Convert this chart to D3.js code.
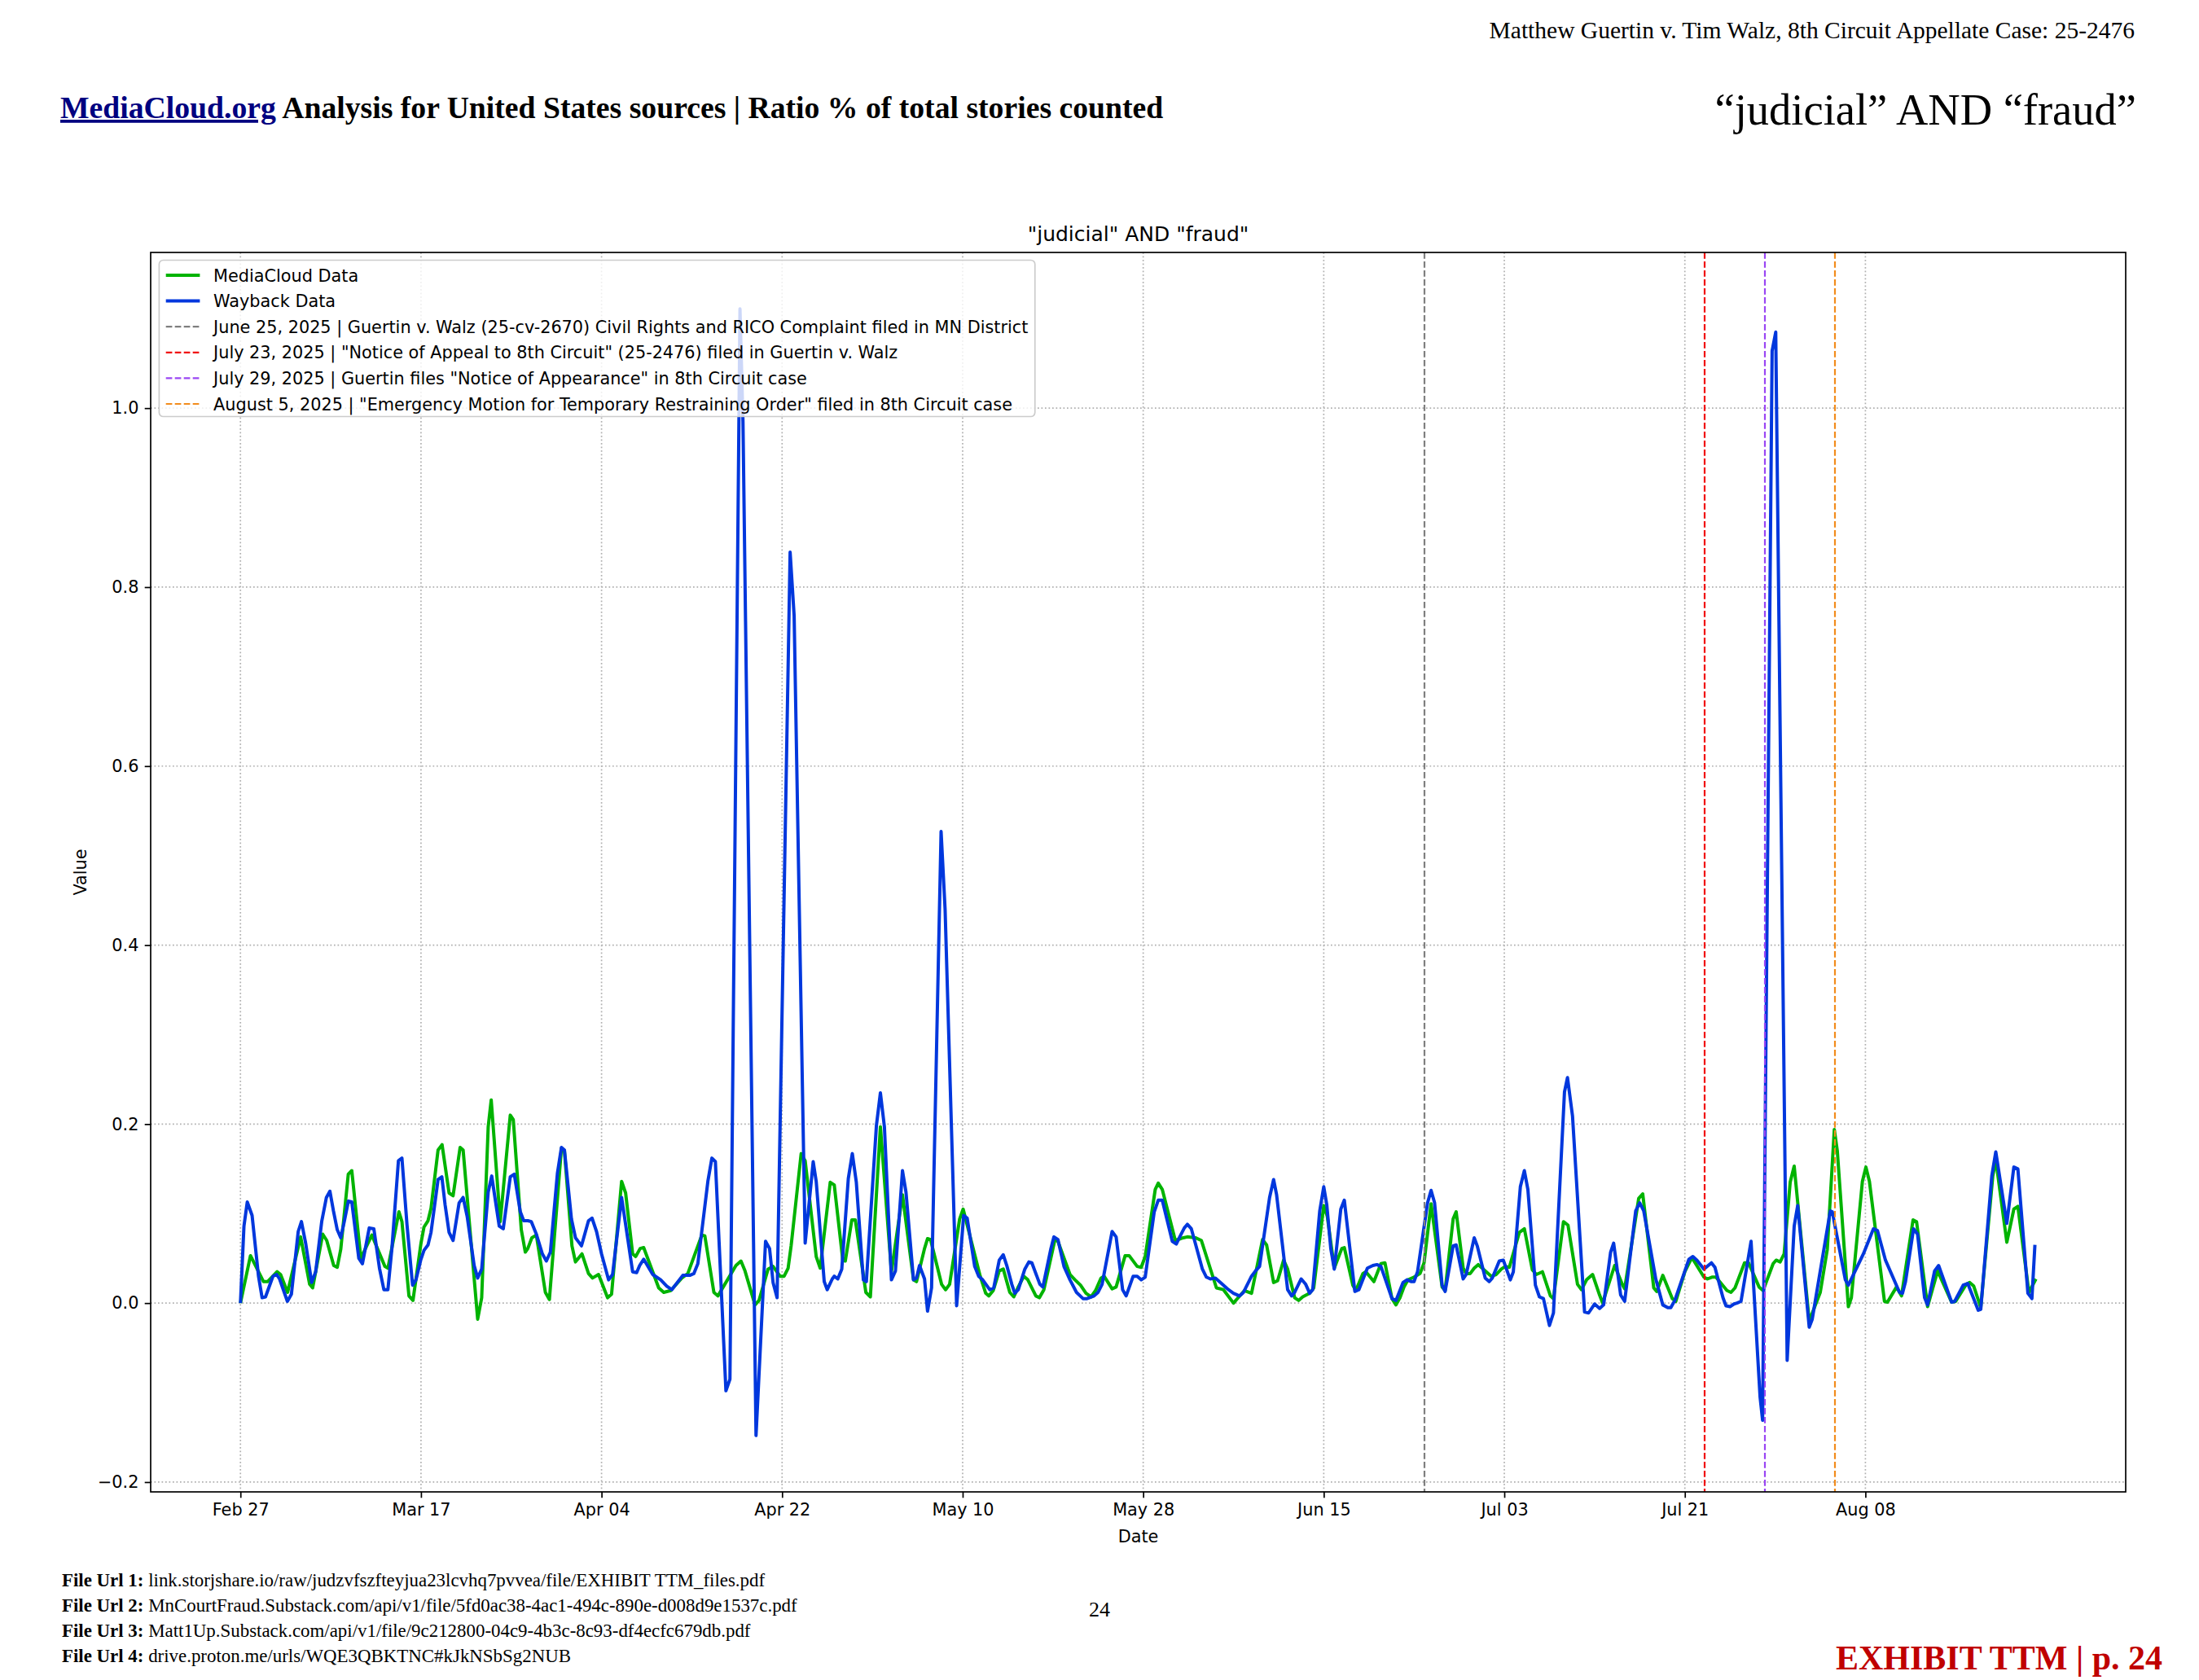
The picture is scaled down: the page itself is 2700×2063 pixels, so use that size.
<!DOCTYPE html>
<html>
<head>
<meta charset="utf-8">
<script src="https://cdnjs.cloudflare.com/ajax/libs/d3/7.8.5/d3.min.js"></script>
<style>
  body { margin: 0; background: #ffffff; }
  svg text { font-family: "DejaVu Sans", sans-serif; }
  .serif { font-family: "Liberation Serif", "Times New Roman", serif; }
</style>
</head>
<body>
<div id="page"></div>
<script>
// ---- Data ----
// x values are days counted from Feb 27, 2025
var startDate = "2025-02-27";

// MediaCloud series: [day, value]
var mediaCloudPoints = [
  [0,0.000],[1.0,0.053],[2.3,0.024],[2.7,0.024],[3.65,0.035],[4.0,0.032],[4.7,0.012],[6.0,0.074],[6.9,0.021],[7.2,0.017],
  [8.2,0.077],[8.6,0.070],[9.3,0.042],[9.65,0.040],[10.0,0.060],[10.75,0.144],[11.1,0.148],[12.0,0.050],[13.1,0.076],[14.4,0.041],
  [14.7,0.039],[15.8,0.102],[16.1,0.091],[16.8,0.008],[17.2,0.003],[18.0,0.067],[18.3,0.085],[18.7,0.092],[19.0,0.106],[19.7,0.171],
  [20.1,0.177],[20.8,0.123],[21.2,0.120],[21.9,0.174],[22.2,0.171],[23.65,-0.018],[24.05,0.006],[24.7,0.197],[25.0,0.227],[25.9,0.091],
  [26.9,0.210],[27.2,0.205],[28.0,0.082],[28.4,0.057],[28.65,0.061],[29.05,0.073],[29.5,0.076],[30.4,0.012],[30.8,0.004],[32.0,0.173],
  [32.3,0.170],[33.05,0.064],[33.4,0.046],[34.05,0.055],[34.7,0.033],[35.1,0.028],[35.7,0.032],[36.6,0.006],
  [37.0,0.010],[38.0,0.136],[38.4,0.123],[39.1,0.055],[39.4,0.052],[39.85,0.061],[40.2,0.062],[41.7,0.017],[42.2,0.012],[42.9,0.014],
  [44.0,0.028],[44.6,0.033],[46.0,0.076],[46.3,0.075],[47.2,0.012],[47.6,0.008],[49.4,0.042],[49.9,0.047],[50.3,0.036],[51.3,-0.002],
  [51.7,0.003],[52.6,0.038],[53.1,0.041],[53.8,0.030],[54.2,0.030],[54.6,0.039],[54.9,0.064],[55.9,0.167],[56.3,0.159],[57.4,0.052],
  [57.8,0.039],[58.8,0.135],[59.2,0.132],[60.05,0.048],[60.3,0.047],[60.95,0.093],[61.3,0.093],[62.35,0.012],[62.8,0.007],[63.8,0.197],
  [64.9,0.035],[66.0,0.121],[67.1,0.026],[67.4,0.024],[68.2,0.061],[68.5,0.072],[68.8,0.071],[69.9,0.021],[70.3,0.015],[70.7,0.021],
  [71.7,0.094],[72.05,0.105],
  [73.75,0.030],[74.3,0.011],[74.6,0.008],[75.05,0.014],[75.65,0.036],[76.05,0.038],[76.7,0.012],[77.1,0.007],[77.5,0.017],[78.1,0.030],
  [78.5,0.026],[79.3,0.008],[79.65,0.006],[80.1,0.015],[81.2,0.071],[81.5,0.069],[82.7,0.032],[83.2,0.026],[83.75,0.020],[84.3,0.011],
  [84.8,0.007],[85.25,0.014],[85.8,0.028],[86.1,0.030],[86.9,0.016],[87.3,0.018],[88.2,0.053],[88.6,0.053],[89.4,0.041],[89.8,0.040],
  [90.2,0.052],[91.2,0.127],[91.5,0.134],[91.9,0.127],[93.2,0.070],[94.0,0.073],[94.4,0.074],[95.2,0.073],[95.8,0.070],[97.3,0.017],
  [98.0,0.015],[99.0,0.000],[99.7,0.009],[100.1,0.014],[100.8,0.011],[101.9,0.071],[102.3,0.065],[103.0,0.023],[103.4,0.025],[104.0,0.048],
  [104.4,0.038],[105.1,0.006],[105.5,0.003],[105.9,0.007],[106.6,0.011],[107.0,0.017],[108.0,0.109],[108.35,0.097],
  [109.05,0.039],[109.8,0.061],[110.05,0.062],[110.9,0.020],[111.2,0.014],[111.9,0.033],[112.2,0.035],[113.0,0.024],[113.7,0.044],[114.1,0.045],
  [114.8,0.005],[115.2,-0.002],[115.6,0.006],[116.0,0.018],[116.4,0.026],[117.0,0.029],[117.6,0.033],[118.0,0.045],[118.7,0.111],[119.8,0.018],
  [120.1,0.014],[120.9,0.094],[121.2,0.102],[121.9,0.039],[122.2,0.033],[122.6,0.033],[123.0,0.039],[123.4,0.043],[124.7,0.030],[125.2,0.032],
  [125.7,0.038],[126.1,0.041],[126.5,0.040],[127.5,0.079],[128.0,0.083],[128.8,0.037],[129.2,0.032],[129.8,0.035],[130.6,0.008],[130.9,0.005],
  [131.9,0.091],[132.35,0.087],[133.3,0.021],[133.7,0.015],[134.2,0.026],[134.8,0.032],[135.5,0.009],[135.8,0.000],[137.0,0.042],[137.8,0.020],
  [138.0,0.016],[139.4,0.117],[139.8,0.122],[140.9,0.017],[141.2,0.013],[141.8,0.031],[142.75,0.005],[143.1,0.002],[144.0,0.035],[144.7,0.051],
  [145.9,0.029],[146.25,0.027],[146.7,0.029],[147.1,0.029],[148.2,0.014],[148.6,0.012],[149.0,0.017],[149.95,0.045],[150.35,0.045],[151.4,0.018],
  [151.8,0.014],[152.8,0.044],[153.1,0.048],[153.5,0.046],[153.9,0.055],[154.5,0.135],[154.9,0.153],[156.4,-0.020],[157.5,0.012],[158.2,0.060],
  [158.9,0.194],[159.2,0.170],[160.3,-0.004],[160.6,0.006],[161.7,0.136],[162.05,0.152],[162.4,0.136],[163.9,0.002],[164.2,0.001],[165.1,0.018],
  [165.6,0.008],[166.75,0.093],[167.1,0.091],[168.2,-0.004],[169.2,0.036],[170.6,0.001],[171.0,0.002],[172.05,0.021],[172.4,0.023],[172.8,0.019],
  [173.5,-0.005],[174.7,0.142],[175.0,0.160],[176.1,0.068],[176.8,0.105],[177.2,0.108],[178.3,0.012],[179.0,0.027]
];

// Wayback series: [day, value]
var waybackPoints = [
  [0,0.000],[0.35,0.086],[0.68,0.113],[1.16,0.098],[1.8,0.030],[2.16,0.006],[2.5,0.007],[3.24,0.030],[3.6,0.032],[3.9,0.027],
  [4.68,0.002],[5.08,0.010],[5.76,0.080],[6.08,0.091],[6.5,0.067],[7.1,0.023],[7.5,0.035],[8.1,0.091],[8.57,0.118],[8.92,0.125],
  [9.27,0.103],[9.65,0.082],[10.0,0.073],[10.35,0.091],[10.76,0.114],[11.1,0.113],[11.8,0.050],[12.16,0.044],[12.5,0.064],[12.84,0.084],
  [13.3,0.083],[13.86,0.039],[14.3,0.015],[14.7,0.015],[15.1,0.061],[15.75,0.159],[16.1,0.162],[16.6,0.088],[17.16,0.020],[17.5,0.026],
  [17.97,0.048],[18.3,0.059],[18.7,0.065],[19.0,0.079],[19.7,0.138],[20.08,0.141],[20.4,0.110],[20.8,0.079],[21.2,0.070],[21.8,0.112],
  [22.2,0.118],[22.6,0.097],[23.3,0.042],[23.65,0.028],[24.05,0.038],[24.7,0.124],[25.05,0.142],[25.8,0.086],[26.2,0.083],[26.9,0.141],
  [27.3,0.144],[27.9,0.102],[28.24,0.092],[28.65,0.092],[29.0,0.091],[29.5,0.077],[30.1,0.055],[30.5,0.047],[30.9,0.057],[31.6,0.145],
  [32.0,0.174],[32.3,0.171],[33.0,0.094],[33.4,0.073],[34.0,0.064],[34.7,0.092],[35.05,0.095],[35.5,0.080],[36.0,0.055],[36.7,0.026],
  [37.1,0.032],[38.0,0.118],[39.1,0.035],[39.5,0.034],[39.8,0.042],[40.2,0.049],[41.1,0.032],[41.9,0.026],[42.5,0.019],[43.0,0.015],
  [44.1,0.031],[44.8,0.031],[45.2,0.033],[45.6,0.044],[46.6,0.136],[47.0,0.162],[47.35,0.158],[48.4,-0.098],[48.8,-0.085],[49.8,1.111],
  [50.1,0.985],[51.4,-0.148],[52.35,0.069],[52.75,0.061],[53.1,0.023],[53.5,0.006],[54.8,0.839],[55.2,0.768],[56.3,0.067],[57.1,0.158],
  [57.4,0.136],[58.2,0.024],[58.5,0.015],[59.0,0.027],[59.2,0.030],[59.55,0.027],[59.95,0.038],[60.6,0.139],[61.0,0.167],[61.4,0.135],
  [62.1,0.026],[62.4,0.024],[63.4,0.198],[63.8,0.235],[64.2,0.197],[64.9,0.026],[65.3,0.036],[66.0,0.148],[66.35,0.124],[67.1,0.026],
  [67.4,0.028],[67.7,0.042],[68.2,0.027],[68.5,-0.009],[68.9,0.017],[69.85,0.527],[70.25,0.440],[71.4,-0.003],[72.1,0.098],[72.45,0.095],
  [73.2,0.041],[73.6,0.030],[74.0,0.026],[74.7,0.015],[75.1,0.017],[75.65,0.048],[76.05,0.054],[76.4,0.042],[76.9,0.021],[77.2,0.011],
  [77.55,0.015],[78.2,0.038],[78.6,0.046],[78.9,0.045],[79.7,0.021],[80.0,0.018],[80.8,0.061],[81.1,0.074],[81.5,0.071],[82.1,0.041],
  [82.7,0.026],[83.35,0.012],[84.0,0.005],[84.4,0.005],[85.1,0.008],[85.5,0.012],[85.9,0.021],[86.9,0.080],[87.3,0.074],[87.95,0.015],
  [88.3,0.008],[89.0,0.030],[89.4,0.030],[89.8,0.026],[90.2,0.029],[91.1,0.102],[91.5,0.115],[91.9,0.115],[92.9,0.069],[93.3,0.066],
  [93.6,0.073],[94.1,0.084],[94.4,0.088],[94.8,0.083],[95.9,0.038],[96.3,0.029],[96.7,0.027],[97.2,0.028],[97.8,0.022],[98.5,0.015],
  [99.0,0.011],[99.6,0.008],[100.0,0.012],[100.8,0.030],[101.2,0.036],[101.6,0.041],[102.6,0.118],[103.0,0.138],[103.3,0.121],[104.4,0.015],
  [104.8,0.008],[105.1,0.012],[105.75,0.027],[106.2,0.021],[106.6,0.011],[106.9,0.015],[107.6,0.103],[108.0,0.130],[108.3,0.110],[108.7,0.061],
  [109.05,0.038],[109.7,0.105],[110.05,0.115],[111.1,0.013],[111.5,0.015],[112.35,0.039],[112.9,0.042],[113.3,0.043],[113.7,0.041],[114.8,0.005],
  [115.2,0.003],[115.9,0.023],[116.3,0.026],[116.7,0.024],[117.0,0.024],[117.35,0.035],[118.35,0.112],[118.7,0.126],[119.05,0.112],[119.8,0.020],
  [120.1,0.013],[120.9,0.064],[121.2,0.065],[121.9,0.027],[122.2,0.032],[123.0,0.073],[123.3,0.064],[124.1,0.028],[124.5,0.024],[124.8,0.028],
  [125.5,0.047],[125.9,0.048],[126.6,0.026],[126.9,0.035],[127.6,0.130],[128.0,0.148],[128.35,0.127],[129.1,0.020],[129.5,0.007],[129.9,0.005],
  [130.5,-0.025],[130.9,-0.011],[132.0,0.236],[132.3,0.252],[132.8,0.209],[134.0,-0.010],[134.4,-0.011],[135.0,-0.001],[135.5,-0.006],[135.9,-0.002],
  [136.6,0.057],[136.9,0.067],[137.6,0.009],[138.0,0.002],[139.1,0.103],[139.5,0.112],[139.9,0.103],[141.1,0.027],[141.8,-0.002],[142.3,-0.005],
  [142.6,-0.005],[143.0,0.003],[144.4,0.049],[144.8,0.052],[145.2,0.048],[145.9,0.038],[146.65,0.045],[147.0,0.040],[147.8,0.006],[148.1,-0.003],
  [148.5,-0.004],[148.9,-0.001],[149.2,0.000],[149.6,0.002],[150.6,0.069],[151.5,-0.105],[151.75,-0.131],[152.7,1.064],[153.06,1.085],[154.2,-0.064],
  [154.9,0.086],[155.25,0.109],[156.4,-0.027],[156.7,-0.018],[158.5,0.103],[158.7,0.102],[160.0,0.026],[160.3,0.020],[161.8,0.055],[162.8,0.083],
  [163.2,0.081],[164.0,0.048],[165.4,0.012],[165.7,0.011],[166.0,0.024],[166.8,0.083],[167.2,0.077],[167.9,0.006],[168.2,-0.002],[168.9,0.036],
  [169.3,0.042],[170.6,0.001],[170.9,0.002],[171.75,0.020],[172.2,0.022],[173.25,-0.008],[173.5,-0.007],[174.6,0.142],[175.0,0.169],[176.1,0.089],
  [176.8,0.152],[177.2,0.150],[178.2,0.011],[178.6,0.005],[178.9,0.065]
];

// Event markers (vertical dashed lines)
var eventDates = ["2025-06-25", "2025-07-23", "2025-07-29", "2025-08-05"];
var eventLabels = [
  "June 25, 2025 | Guertin v. Walz (25-cv-2670) Civil Rights and RICO Complaint filed in MN District",
  "July 23, 2025 | \"Notice of Appeal to 8th Circuit\" (25-2476) filed in Guertin v. Walz",
  "July 29, 2025 | Guertin files \"Notice of Appearance\" in 8th Circuit case",
  "August 5, 2025 | \"Emergency Motion for Temporary Restraining Order\" filed in 8th Circuit case"
];
var seriesNames = ["MediaCloud Data", "Wayback Data"];

// Tick labels
var xTickDates = ["2025-02-27", "2025-03-17", "2025-04-04", "2025-04-22", "2025-05-10",
                  "2025-05-28", "2025-06-15", "2025-07-03", "2025-07-21", "2025-08-08"];
var yTickValues = [-0.2, 0.0, 0.2, 0.4, 0.6, 0.8, 1.0];

// Page texts
var headerCase = "Matthew Guertin v. Tim Walz, 8th Circuit Appellate Case: 25-2476";
var headerLink = "MediaCloud.org";
var headerRest = " Analysis for United States sources | Ratio % of total stories counted";
var headerQuery = "\u201cjudicial\u201d AND \u201cfraud\u201d";
var chartTitle = "\"judicial\" AND \"fraud\"";
var fileUrlLabels = ["File Url 1:", "File Url 2:", "File Url 3:", "File Url 4:"];
var fileUrls = [
  " link.storjshare.io/raw/judzvfszfteyjua23lcvhq7pvvea/file/EXHIBIT TTM_files.pdf",
  " MnCourtFraud.Substack.com/api/v1/file/5fd0ac38-4ac1-494c-890e-d008d9e1537c.pdf",
  " Matt1Up.Substack.com/api/v1/file/9c212800-04c9-4b3c-8c93-df4ecfc679db.pdf",
  " drive.proton.me/urls/WQE3QBKTNC#kJkNSbSg2NUB"
];
var pageNumber = "24";
var exhibitText = "EXHIBIT TTM | p. 24";

// ---- Styles ----
var seriesColors = ["#00b300", "#0037dd"];
var eventColors = ["#7f7f7f", "#f00c0c", "#9a46f4", "#f28c1c"];
var fontPx = 20.8; // 10pt at 150 dpi

// ---- Setup ----
var svgWidth = 2700;
var svgHeight = 2063;

var margin = { top: 310, right: 90, bottom: 231, left: 185 };
var chartW = svgWidth - margin.left - margin.right;
var chartH = svgHeight - margin.top - margin.bottom;

var svg = d3.select("#page")
  .append("svg")
  .attr("width", svgWidth)
  .attr("height", svgHeight)
  .style("display", "block")
  .style("background", "#ffffff");

var parseDate = d3.utcParse("%Y-%m-%d");
var start = parseDate(startDate);
function dayToDate(d) { return new Date(start.getTime() + d * 86400000); }

// ---- Header ----
svg.append("text")
  .attr("class", "serif")
  .attr("x", 2621)
  .attr("y", 47)
  .attr("text-anchor", "end")
  .attr("font-size", "29.5px")
  .attr("fill", "#000")
  .text(headerCase);

var headTitle = svg.append("text")
  .attr("class", "serif")
  .attr("x", 74)
  .attr("y", 145)
  .attr("font-size", "37.7px")
  .attr("font-weight", "bold");
headTitle.append("tspan")
  .attr("fill", "#000080")
  .style("text-decoration", "underline")
  .text(headerLink);
headTitle.append("tspan")
  .attr("fill", "#000")
  .text(headerRest);

svg.append("text")
  .attr("class", "serif")
  .attr("x", 2623)
  .attr("y", 153)
  .attr("text-anchor", "end")
  .attr("font-size", "54.5px")
  .attr("fill", "#000")
  .text(headerQuery);

// ---- Chart ----
var chartGrp = svg.append("g")
  .attr("transform", `translate(${margin.left}, ${margin.top})`);

// both axes get 5% padding around the data, like the original plot
var allDays = mediaCloudPoints.concat(waybackPoints).map(p => p[0]);
var dMin = d3.min(allDays), dMax = d3.max(allDays);
var dPad = (dMax - dMin) * 0.05;
var xScale = d3.scaleUtc()
  .domain([dayToDate(dMin - dPad), dayToDate(dMax + dPad)])
  .range([0, chartW]);

var allValues = mediaCloudPoints.concat(waybackPoints).map(p => p[1]);
var yMin = d3.min(allValues), yMax = d3.max(allValues);
var yPad = (yMax - yMin) * 0.05;
var yScale = d3.scaleLinear()
  .domain([yMin - yPad, yMax + yPad])
  .range([chartH, 0]);

var xTicks = xTickDates.map(parseDate);

// grid (dotted)
chartGrp.append("g")
  .selectAll("line")
  .data(xTicks)
  .enter()
  .append("line")
  .attr("x1", d => xScale(d)).attr("x2", d => xScale(d))
  .attr("y1", 0).attr("y2", chartH)
  .attr("stroke", "#b0b0b0")
  .attr("stroke-width", 1.7)
  .attr("stroke-dasharray", "1.7,2.8");

chartGrp.append("g")
  .selectAll("line")
  .data(yTickValues)
  .enter()
  .append("line")
  .attr("x1", 0).attr("x2", chartW)
  .attr("y1", d => yScale(d)).attr("y2", d => yScale(d))
  .attr("stroke", "#b0b0b0")
  .attr("stroke-width", 1.7)
  .attr("stroke-dasharray", "1.7,2.8");

// clip lines to the plot area
svg.append("defs").append("clipPath")
  .attr("id", "plotClip")
  .append("rect")
  .attr("width", chartW)
  .attr("height", chartH);

var plotGrp = chartGrp.append("g").attr("clip-path", "url(#plotClip)");

var line = d3.line()
  .x(d => xScale(dayToDate(d[0])))
  .y(d => yScale(d[1]));

[mediaCloudPoints, waybackPoints].forEach(function(points, i) {
  plotGrp.append("path")
    .datum(points)
    .attr("fill", "none")
    .attr("stroke", seriesColors[i])
    .attr("stroke-width", 4)
    .attr("stroke-linejoin", "round")
    .attr("d", line);
});

// event lines (snapped to whole pixels so they stay crisp)
plotGrp.selectAll(".event")
  .data(eventDates)
  .enter()
  .append("line")
  .attr("class", "event")
  .attr("x1", d => Math.round(xScale(parseDate(d)))).attr("x2", d => Math.round(xScale(parseDate(d))))
  .attr("y1", 0).attr("y2", chartH)
  .attr("stroke", (d, i) => eventColors[i])
  .attr("stroke-width", 2.2)
  .attr("stroke-dasharray", "7.7,3.3");

// axes
var bottomAxis = d3.axisBottom(xScale)
  .tickValues(xTicks)
  .tickFormat(d3.utcFormat("%b %d"))
  .tickSize(7.3)
  .tickPadding(7.3);
var leftAxis = d3.axisLeft(yScale)
  .tickValues(yTickValues)
  .tickFormat(d3.format(".1f"))
  .tickSize(7.3)
  .tickPadding(7.3);

var xAxisGrp = chartGrp.append("g")
  .attr("transform", `translate(0, ${chartH})`)
  .call(bottomAxis);
var yAxisGrp = chartGrp.append("g")
  .call(leftAxis);

[xAxisGrp, yAxisGrp].forEach(function(g) {
  g.select(".domain").remove();
  g.selectAll(".tick line").attr("stroke", "#000").attr("stroke-width", 1.7);
  g.selectAll(".tick text")
    .attr("fill", "#000")
    .attr("font-size", fontPx + "px")
    .attr("font-family", "DejaVu Sans");
});

// spines
chartGrp.append("rect")
  .attr("width", chartW)
  .attr("height", chartH)
  .attr("fill", "none")
  .attr("stroke", "#000")
  .attr("stroke-width", 1.7);

// axis labels and title
chartGrp.append("text")
  .attr("x", chartW / 2)
  .attr("y", chartH + 62)
  .attr("text-anchor", "middle")
  .attr("font-size", fontPx + "px")
  .text("Date");

chartGrp.append("text")
  .attr("transform", `translate(-79, ${chartH / 2}) rotate(-90)`)
  .attr("text-anchor", "middle")
  .attr("font-size", fontPx + "px")
  .text("Value");

chartGrp.append("text")
  .attr("x", chartW / 2)
  .attr("y", -14)
  .attr("text-anchor", "middle")
  .attr("font-size", "25px")
  .text(chartTitle);

// legend
var legendItems = [
  { label: seriesNames[0], color: seriesColors[0], dash: null, width: 4 },
  { label: seriesNames[1], color: seriesColors[1], dash: null, width: 4 }
].concat(eventLabels.map((l, i) => ({ label: l, color: eventColors[i], dash: "7.7,3.3", width: 2.2 })));

var legendGrp = chartGrp.append("g")
  .attr("transform", "translate(10.4, 9.5)");
var legendBox = legendGrp.append("rect")
  .attr("rx", 5)
  .attr("fill", "#fff")
  .attr("fill-opacity", 0.8)
  .attr("stroke", "#cccccc")
  .attr("stroke-width", 1.7);

var rowStep = 31.6;
var legendRows = legendGrp.selectAll(".row")
  .data(legendItems)
  .enter()
  .append("g")
  .attr("transform", (d, i) => `translate(0, ${18.5 + i * rowStep})`);

legendRows.append("line")
  .attr("x1", 8.3).attr("x2", 50)
  .attr("stroke", d => d.color)
  .attr("stroke-width", d => d.width)
  .attr("stroke-dasharray", d => d.dash);

var legendTexts = legendRows.append("text")
  .attr("x", 66.7)
  .attr("dy", "0.36em")
  .attr("font-size", fontPx + "px")
  .text(d => d.label);

var maxW = d3.max(legendTexts.nodes(), n => n.getComputedTextLength());
legendBox
  .attr("width", 66.7 + maxW + 8.3)
  .attr("height", 18.5 + 5 * rowStep + 18.5 - 3);

// ---- Footer ----
var footer = svg.append("g");
fileUrls.forEach(function(u, i) {
  var t = footer.append("text")
    .attr("class", "serif")
    .attr("x", 76)
    .attr("y", 1948 + i * 31)
    .attr("font-size", "22.9px")
    .attr("fill", "#000");
  t.append("tspan").attr("font-weight", "bold").text(fileUrlLabels[i]);
  t.append("tspan").text(u);
});

svg.append("text")
  .attr("class", "serif")
  .attr("x", 1350)
  .attr("y", 1985)
  .attr("text-anchor", "middle")
  .attr("font-size", "26px")
  .attr("fill", "#000")
  .text(pageNumber);

svg.append("text")
  .attr("class", "serif")
  .attr("x", 2655)
  .attr("y", 2050)
  .attr("text-anchor", "end")
  .attr("font-size", "42px")
  .attr("font-weight", "bold")
  .attr("fill", "#c00000")
  .text(exhibitText);
</script>
</body>
</html>
